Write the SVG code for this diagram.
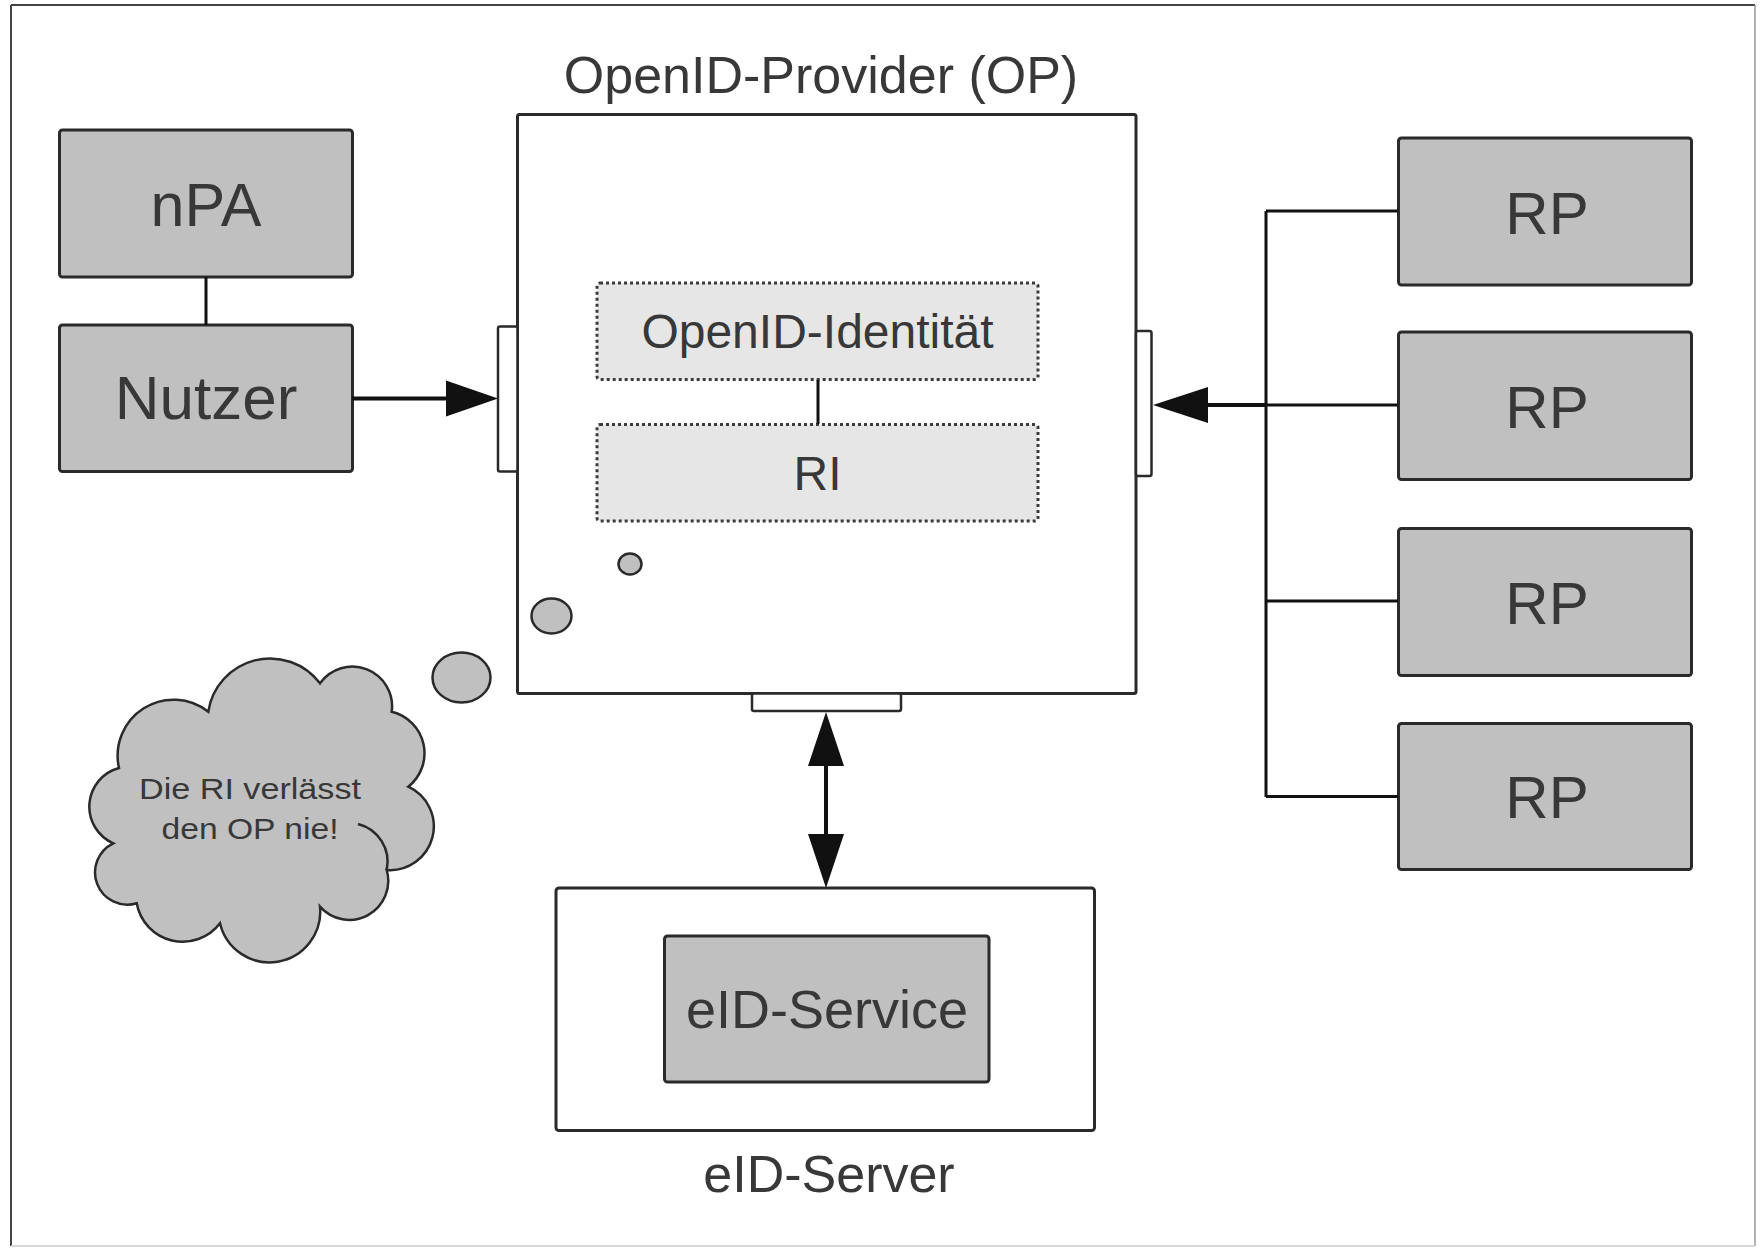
<svg xmlns="http://www.w3.org/2000/svg" width="1760" height="1251" viewBox="0 0 1760 1251">
<defs>
<style>
.box{fill:#c0c0c0;stroke:#2a2a2a;stroke-width:3}
.wbox{fill:#ffffff;stroke:#2a2a2a;stroke-width:3}
.dbox{fill:#e6e6e6;stroke:#3a3a3a;stroke-width:3;stroke-dasharray:3 3}
.port{fill:#ffffff;stroke:#2a2a2a;stroke-width:2.5}
.line{fill:none;stroke:#111;stroke-width:3}
.thick{fill:none;stroke:#111;stroke-width:4}
.head{fill:#111;stroke:none}
.t{font-family:"Liberation Sans",Arial,sans-serif;fill:#383838;text-anchor:middle}
.bubble{fill:#c0c0c0;stroke:#2a2a2a;stroke-width:2.5}
</style>
</defs>
<rect x="0" y="0" width="1760" height="1251" fill="#ffffff"/>
<g id="frame">
<line x1="11" y1="5" x2="1755" y2="5" stroke="#444" stroke-width="2"/>
<line x1="11" y1="5" x2="11" y2="1246" stroke="#444" stroke-width="2"/>
<line x1="1755" y1="5" x2="1755" y2="1246" stroke="#999" stroke-width="1.5"/>
<line x1="11" y1="1246" x2="1755" y2="1246" stroke="#ccc" stroke-width="1.5"/>
</g>

<g id="op">
<rect class="wbox" x="517.5" y="114.5" width="618.5" height="579" rx="2"/>
<text class="t" x="821" y="92.5" font-size="52">OpenID-Provider (OP)</text>
</g>
<g id="op-port-left"><rect class="port" x="498" y="326.5" width="19.5" height="145" rx="2"/></g>
<g id="op-port-right"><rect class="port" x="1136" y="331" width="15.5" height="145" rx="2"/></g>
<g id="op-port-bottom"><rect class="port" x="752" y="693.5" width="149" height="17.5" rx="2"/></g>

<g id="openid-identitaet">
<rect class="dbox" x="597" y="283" width="441" height="96.5" rx="3"/>
<text class="t" x="817.5" y="348" font-size="48">OpenID-Identität</text>
</g>
<g id="ri">
<rect class="dbox" x="597" y="424.5" width="441" height="96.5" rx="3"/>
<text class="t" x="817.5" y="489.5" font-size="48">RI</text>
</g>

<g id="npa">
<rect class="box" x="59.5" y="130" width="293" height="147" rx="3"/>
<text class="t" x="206" y="225.5" font-size="61">nPA</text>
</g>
<g id="nutzer">
<rect class="box" x="59.5" y="325" width="293" height="146.5" rx="3"/>
<text class="t" x="206" y="418.5" font-size="62">Nutzer</text>
</g>

<g id="rp1">
<rect class="box" x="1398.5" y="138" width="293" height="147" rx="3"/>
<text class="t" x="1547" y="233.5" font-size="60">RP</text>
</g>
<g id="rp2">
<rect class="box" x="1398.5" y="332" width="293" height="147.5" rx="3"/>
<text class="t" x="1547" y="427.5" font-size="60">RP</text>
</g>
<g id="rp3">
<rect class="box" x="1398.5" y="528.5" width="293" height="147" rx="3"/>
<text class="t" x="1547" y="623.5" font-size="60">RP</text>
</g>
<g id="rp4">
<rect class="box" x="1398.5" y="723.5" width="293" height="146" rx="3"/>
<text class="t" x="1547" y="818" font-size="60">RP</text>
</g>

<g id="eid-server">
<rect class="wbox" x="556" y="888" width="538.5" height="242.5" rx="3"/>
<text class="t" x="829" y="1192" font-size="52">eID-Server</text>
</g>
<g id="eid-service">
<rect class="box" x="664.5" y="936" width="324.5" height="146" rx="3"/>
<text class="t" x="827" y="1027.5" font-size="54">eID-Service</text>
</g>

<g id="thought">
<ellipse class="bubble" cx="630" cy="564" rx="11.5" ry="10.5"/>
<ellipse class="bubble" cx="551.5" cy="616" rx="20" ry="17.5"/>
<ellipse class="bubble" cx="461.5" cy="677.5" rx="29" ry="25"/>
<path class="bubble" d="M119,768 A56,56 0 0 1 208.3,711.7 A62.5,62.5 0 0 1 320,683.3 A39.7,39.7 0 0 1 391.7,711.7 A42.7,42.7 0 0 1 408.3,786.7 A43.7,43.7 0 0 1 386.7,870 A39,39 0 0 1 320,906.7 A50.8,50.8 0 0 1 220,923.3 A46.8,46.8 0 0 1 136.7,903.3 A32.3,32.3 0 0 1 113.3,843.3 A40,40 0 0 1 119,768 Z"/>
<path d="M358,824 A39,39 0 0 1 386.7,870" fill="none" stroke="#2a2a2a" stroke-width="2.5"/>
<text class="t" x="250" y="799" font-size="29" textLength="222" lengthAdjust="spacingAndGlyphs">Die RI verlässt</text>
<text class="t" x="250" y="839" font-size="29" textLength="177" lengthAdjust="spacingAndGlyphs">den OP nie!</text>
</g>

<g id="connectors">
<line class="line" x1="206" y1="277" x2="206" y2="325"/>
<line class="line" x1="818" y1="380" x2="818" y2="424"/>
<line class="thick" x1="352" y1="398.5" x2="448" y2="398.5"/>
<polygon class="head" points="498,398.5 446,380.5 446,416.5"/>
<line class="line" x1="1266" y1="211" x2="1266" y2="797"/>
<line class="line" x1="1266" y1="211" x2="1398" y2="211"/>
<line class="line" x1="1266" y1="405" x2="1398" y2="405"/>
<line class="line" x1="1266" y1="601" x2="1398" y2="601"/>
<line class="line" x1="1266" y1="796.5" x2="1398" y2="796.5"/>
<line class="thick" x1="1205" y1="405" x2="1266" y2="405"/>
<polygon class="head" points="1153,405 1208,387 1208,423"/>
<line class="thick" x1="826" y1="760" x2="826" y2="836"/>
<polygon class="head" points="826,712 808,766 844,766"/>
<polygon class="head" points="826,888 808,834 844,834"/>
</g>
</svg>
